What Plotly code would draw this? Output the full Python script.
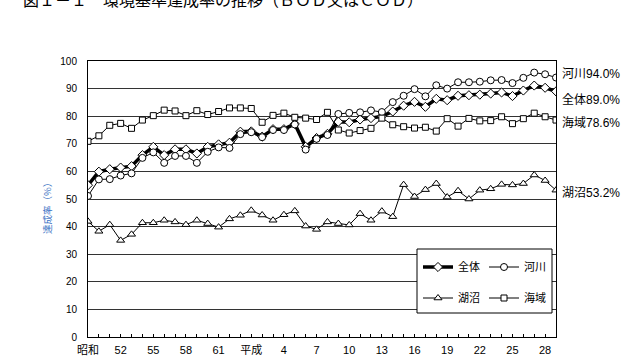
import plotly.graph_objects as go

# x categories: 昭和49 (1974) .. 平成29 (2017)
years = list(range(44))
tick_pos = list(range(0, 43, 3))
tick_text = ["昭和", "52", "55", "58", "61", "平成", "4", "7", "10", "13", "16", "19", "22", "25", "28"]

zentai = [55.0, 59.9, 60.8, 61.4, 61.9, 65.9, 68.9, 65.9, 68.0, 68.0, 66.5, 68.9, 69.8, 70.4, 74.4,
          74.5, 72.6, 75.3, 75.3, 77.2, 68.9, 72.1, 73.6, 78.0, 77.8, 78.8, 79.3, 80.0,
          81.7, 83.8, 85.2, 83.4, 86.3, 85.8, 87.4, 87.6, 87.8, 88.2, 88.6, 87.3, 89.3, 91.1, 90.3, 89.0]
kasen = [51.1, 57.1, 57.2, 58.5, 59.3, 64.9, 66.9, 63.1, 65.6, 65.6, 63.1, 67.1, 68.7, 68.5, 73.5,
         74.2, 72.4, 75.0, 75.0, 77.0, 67.9, 71.8, 73.2, 80.8, 81.2, 81.4, 82.1, 81.5,
         85.1, 87.4, 89.8, 87.2, 91.2, 90.0, 92.3, 92.3, 92.5, 93.0, 93.1, 92.0, 93.9, 95.8, 95.2, 94.0]
kosho = [41.9, 38.3, 40.7, 35.0, 37.2, 41.4, 41.4, 42.3, 41.7, 40.7, 42.3, 41.1, 39.8, 42.8, 44.1,
         45.9, 44.2, 42.3, 44.3, 45.7, 40.2, 39.0, 41.7, 41.1, 40.6, 44.7, 42.3, 45.6,
         43.6, 55.2, 50.9, 53.4, 55.6, 50.7, 53.0, 50.0, 53.2, 53.7, 55.3, 55.1, 55.6, 58.7, 56.7, 53.2]
kaiiki = [70.9, 72.9, 76.7, 77.4, 75.6, 78.6, 80.2, 82.2, 81.9, 80.2, 82.0, 80.6, 81.7, 83.0, 83.0,
          82.8, 77.8, 80.3, 81.1, 79.6, 79.3, 78.8, 81.4, 75.0, 73.9, 74.8, 75.6, 79.3,
          76.9, 76.2, 75.7, 76.0, 74.6, 79.1, 76.4, 79.2, 78.3, 78.4, 79.8, 77.3, 79.1, 81.1, 79.8, 78.6]

end_labels = ["河川94.0%", "全体89.0%", "海域78.6%", "湖沼53.2%"]
end_label_y = [95.3, 85.9, 77.6, 52.2]

JP = "Liberation Sans, Noto Sans CJK JP"

fig = go.Figure()
fig.add_trace(go.Scatter(x=years, y=zentai, name="全体", mode="lines+markers",
                         line=dict(color="black", width=3.5),
                         marker=dict(symbol="diamond", size=7, color="white", line=dict(color="black", width=1)),
                         legend="legend"))
fig.add_trace(go.Scatter(x=years, y=kasen, name="河川", mode="lines+markers",
                         line=dict(color="black", width=1),
                         marker=dict(symbol="circle", size=7, color="white", line=dict(color="black", width=1)),
                         legend="legend"))
fig.add_trace(go.Scatter(x=years, y=kosho, name="湖沼", mode="lines+markers",
                         line=dict(color="black", width=1),
                         marker=dict(symbol="triangle-up", size=7, color="white", line=dict(color="black", width=1)),
                         legend="legend2"))
fig.add_trace(go.Scatter(x=years, y=kaiiki, name="海域", mode="lines+markers",
                         line=dict(color="black", width=1),
                         marker=dict(symbol="square", size=6, color="white", line=dict(color="black", width=1)),
                         legend="legend2"))

L, R, T, B = 88, 84, 61, 23
W, H = 640, 360
pw, ph = W - L - R, H - T - B

def px(xp):
    return (xp - L) / pw

def py(yp):
    return (H - B - yp) / ph

annotations = []
for txt, yv in zip(end_labels, end_label_y):
    annotations.append(dict(x=px(560), xref="paper", y=yv, yref="y", text=txt, showarrow=False,
                            xanchor="left", yanchor="middle", font=dict(family=JP, size=12, color="black")))
annotations.append(dict(x=px(21), xref="paper", y=py(13), yref="paper",
                        text="図１－１　環境基準達成率の推移（ＢＯＤ又はＣＯＤ）", showarrow=False,
                        xanchor="left", yanchor="bottom",
                        font=dict(family="Noto Sans CJK JP", size=16, color="black")))
annotations.append(dict(x=px(47), xref="paper", y=py(206), yref="paper", text="達成率（%）",
                        showarrow=False, textangle=-90, xanchor="center", yanchor="middle",
                        font=dict(family="Noto Sans CJK JP", size=9.5, color="#3a72c4")))

fig.update_layout(
    width=W, height=H,
    margin=dict(l=L, r=R, t=T, b=B, pad=0, autoexpand=False),
    paper_bgcolor="white", plot_bgcolor="white",
    font=dict(family=JP, size=11, color="black"),
    showlegend=True,
    legend=dict(orientation="h", x=px(418), y=py(267), xanchor="left", yanchor="middle",
                bgcolor="rgba(0,0,0,0)", borderwidth=0, entrywidth=21, itemwidth=30,
                font=dict(family=JP, size=11)),
    legend2=dict(orientation="h", x=px(418), y=py(298), xanchor="left", yanchor="middle",
                 bgcolor="rgba(0,0,0,0)", borderwidth=0, entrywidth=21, itemwidth=30,
                 font=dict(family=JP, size=11)),
    shapes=[dict(type="rect", xref="paper", yref="paper", x0=px(417), x1=px(552), y0=py(313), y1=py(249),
                 line=dict(color="black", width=1), fillcolor="white", layer="above")],
    annotations=annotations,
    xaxis=dict(range=[0, 43], tickvals=tick_pos, ticktext=tick_text, showgrid=False,
               showline=True, linecolor="black", linewidth=1, mirror=True,
               ticks="inside", ticklen=3, tickcolor="black",
               minor=dict(tickvals=years, ticks="inside", ticklen=3, tickcolor="black"),
               tickfont=dict(family=JP, size=11), ticklabelstandoff=3, zeroline=False,
               automargin=False),
    yaxis=dict(range=[0, 100], dtick=10, showgrid=True, gridcolor="#333", gridwidth=1,
               showline=True, linecolor="black", linewidth=1, mirror=True,
               ticks="", tickfont=dict(family=JP, size=10), ticklabelstandoff=8, zeroline=False,
               automargin=False),
)

fig.write_html("out.html", config={"displayModeBar": False},
               post_script="document.body.style.margin='0';")
